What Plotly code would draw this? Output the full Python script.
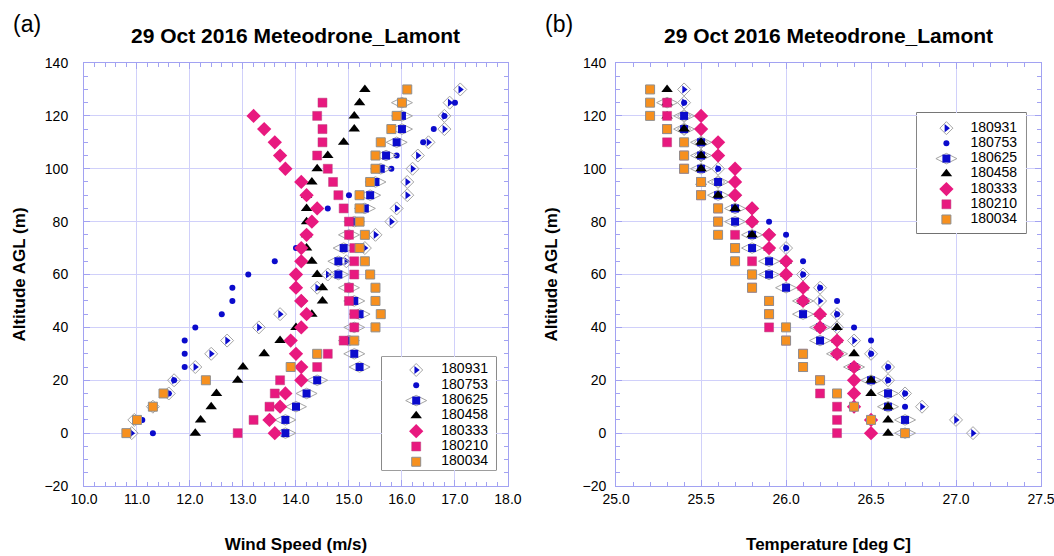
import plotly.graph_objects as go

# ---------------- data ----------------
ALT = [0, 5, 10, 15, 20, 25, 30, 35, 40, 45, 50, 55, 60, 65, 70, 75, 80, 85, 90, 95,
       100, 105, 110, 115, 120, 125, 130]

SERIES = ["180931", "180753", "180625", "180458", "180333", "180210", "180034"]

# Panel (a): wind speed (m/s)
ws_180931 = [10.9, 10.95, 11.3, 11.6, 11.7, 12.1, 12.4, 12.7, 13.3, 13.7, 14.1, 14.4, 14.6, 14.95,
             15.3, 15.5, 15.8, 15.9, 16.1, 16.1, 16.2, 16.3, 16.5, 16.8, 16.8, 16.9, 17.1]
ws_180753 = [11.3, 11.1, 11.3, 11.6, 11.7, 11.9, 11.9, 11.9, 12.1, 12.6, 12.8, 12.8, 13.1, 13.6,
             14.0, 14.2, 14.3, 14.6, 15.0, 15.4, 15.8, 15.9, 16.4, 16.6, 16.8, 17.0]
ws_180625 = [13.8, 13.8, 14.0, 14.2, 14.4, 15.2, 15.1, 15.0, 15.1, 15.2, 15.1, 15.0, 14.8, 14.8,
             14.9, 15.0, 15.1, 15.3, 15.4, 15.5, 15.6, 15.7, 15.9, 16.0, 16.0, 16.0]
ws_180458 = [12.1, 12.2, 12.4, 12.5, 12.9, 13.0, 13.4, 13.7, 14.0, 14.3, 14.5, 14.5, 14.4, 14.3,
             14.2, 14.2, 14.2, 14.2, 14.2, 14.3, 14.4, 14.6, 14.9, 15.1, 15.1, 15.2, 15.3]
ws_180333 = [13.6, 13.5, 13.7, 13.8, 14.1, 14.1, 14.0, 13.9, 14.1, 14.2, 14.1, 14.0, 14.0, 14.1,
             14.1, 14.2, 14.3, 14.4, 14.2, 14.1, 13.8, 13.7, 13.6, 13.4, 13.2]
ws_180210 = [12.9, 13.2, 13.5, 13.6, 13.7, 14.4, 14.6, 14.9, 15.1, 15.1, 15.0, 15.0, 15.1, 15.1,
             15.1, 15.0, 15.0, 14.9, 14.8, 14.7, 14.6, 14.4, 14.5, 14.5, 14.4, 14.5]
ws_180034 = [10.8, 11.0, 11.3, 11.5, 12.3, 13.9, 14.4, 15.1, 15.5, 15.6, 15.5, 15.5, 15.4, 15.3,
             15.2, 15.3, 15.2, 15.2, 15.2, 15.4, 15.5, 15.5, 15.6, 15.8, 15.9, 16.0, 16.1]

# Panel (b): temperature (deg C)
t_180931 = [27.1, 27.0, 26.8, 26.7, 26.6, 26.6, 26.5, 26.4, 26.3, 26.3, 26.2, 26.2, 26.1, 26.0,
            26.0, 25.9, 25.8, 25.8, 25.7, 25.6, 25.6, 25.5, 25.5, 25.4, 25.4, 25.4, 25.4]
t_180753 = [26.7, 26.7, 26.7, 26.7, 26.6, 26.6, 26.5, 26.5, 26.4, 26.3, 26.3, 26.2, 26.1, 26.1,
            26.0, 26.0, 25.9, 25.8, 25.7, 25.6, 25.6, 25.5, 25.5, 25.4, 25.4, 25.4]
t_180625 = [26.7, 26.7, 26.6, 26.6, 26.5, 26.4, 26.3, 26.2, 26.2, 26.1, 26.1, 26.0, 25.9, 25.9,
            25.8, 25.8, 25.7, 25.7, 25.6, 25.6, 25.5, 25.5, 25.5, 25.4, 25.4, 25.3]
t_180458 = [26.6, 26.6, 26.6, 26.5, 26.5, 26.4, 26.4, 26.3, 26.3, 26.2, 26.1, 26.1, 26.0, 26.0,
            25.9, 25.8, 25.8, 25.7, 25.6, 25.5, 25.5, 25.5, 25.5, 25.4, 25.3, 25.3, 25.3]
t_180333 = [26.5, 26.5, 26.4, 26.4, 26.4, 26.4, 26.3, 26.3, 26.2, 26.2, 26.1, 26.1, 26.0, 26.0,
            25.9, 25.9, 25.8, 25.8, 25.7, 25.7, 25.7, 25.6, 25.6, 25.5, 25.5]
t_180210 = [26.3, 26.3, 26.3, 26.2, 26.2, 26.1, 26.1, 26.0, 25.9, 25.9, 25.9, 25.8, 25.8, 25.8,
            25.7, 25.7, 25.6, 25.6, 25.5, 25.5, 25.4, 25.4, 25.3, 25.3, 25.3, 25.3]
t_180034 = [26.7, 26.5, 26.4, 26.3, 26.2, 26.1, 26.1, 26.0, 26.0, 25.9, 25.9, 25.8, 25.8, 25.7,
            25.7, 25.6, 25.6, 25.6, 25.5, 25.5, 25.4, 25.4, 25.4, 25.3, 25.2, 25.2, 25.2]

TITLE = "29 Oct 2016 Meteodrone_Lamont"
X_TITLES = ["Wind Speed (m/s)", "Temperature [deg C]"]
Y_TITLE = "Altitude AGL (m)"
PANEL_LABELS = ["(a)", "(b)"]

# ---------------- styles ----------------
BLUE = "#0b0bcc"
PINK = "#e8197f"
ORANGE = "#f7901e"
GREY = "#a4a4a4"
FONT = "Arial, Liberation Sans, Helvetica, sans-serif"
GRID = "#d0d0fa"
FRAME = "#a2a2f2"

# marker layers per series (drawn bottom to top)
STYLES = {
    "180931": [dict(symbol="diamond-open", size=10, color=GREY, line=dict(width=1, color=GREY)),
               dict(symbol="triangle-right", size=7, color=BLUE, line=dict(width=0))],
    "180753": [dict(symbol="circle", size=6, color=BLUE, line=dict(width=0))],
    "180625": [dict(symbol="diamond-wide-open", size=15, color=GREY, line=dict(width=1, color=GREY)),
               dict(symbol="square", size=8, color=BLUE, line=dict(width=0))],
    "180458": [dict(symbol="triangle-up", size=10, color="black", line=dict(width=0))],
    "180333": [dict(symbol="diamond", size=11, color=PINK, line=dict(width=0))],
    "180210": [dict(symbol="square", size=9, color=PINK, line=dict(width=0.5, color="#b8407a"))],
    "180034": [dict(symbol="square", size=9, color=ORANGE, line=dict(width=1, color="#8f8f8f"))],
}

fig = go.Figure()


def add_panel(vals, xa, ya):
    for name, v in zip(SERIES, vals):
        for mk in STYLES[name]:
            fig.add_trace(go.Scatter(x=v, y=ALT[:len(v)], name=name, mode="markers",
                                     xaxis=xa, yaxis=ya, showlegend=False,
                                     marker=mk, hoverinfo="x+y"))


def add_legend(xa, ya, sym_x, text_x):
    # custom legend drawn in its own small axes; rows are the series names (categorical)
    for name in SERIES:
        for mk in STYLES[name]:
            fig.add_trace(go.Scatter(x=[sym_x], y=[name], mode="markers", xaxis=xa, yaxis=ya,
                                     showlegend=False, marker=mk, hoverinfo="skip"))
    fig.add_trace(go.Scatter(x=[text_x] * len(SERIES), y=SERIES, text=SERIES, mode="text",
                             textposition="middle right", xaxis=xa, yaxis=ya, showlegend=False,
                             textfont=dict(family=FONT, size=14, color="black"),
                             hoverinfo="skip"))


add_panel([ws_180931, ws_180753, ws_180625, ws_180458, ws_180333, ws_180210, ws_180034], "x", "y")
add_panel([t_180931, t_180753, t_180625, t_180458, t_180333, t_180210, t_180034], "x2", "y2")
add_legend("x3", "y3", 0.30, 0.52)
add_legend("x4", "y4", 0.27, 0.49)

axis_common = dict(showgrid=True, gridcolor=GRID, gridwidth=1, showline=True, linecolor=FRAME,
                   linewidth=1, mirror="allticks", ticks="inside", ticklen=6, tickcolor=FRAME,
                   zeroline=False, automargin=False, ticklabeloverflow="allow",
                   tickfont=dict(family=FONT, size=14, color="black"))

title_font = dict(family=FONT, size=17, color="black", weight="bold")

dom_a = [0.0, 0.443]
dom_b = [0.556, 1.0]
leg_axis = dict(visible=False, fixedrange=True, automargin=False)

fig.update_layout(
    width=1054, height=556,
    margin=dict(l=84, r=13, t=63, b=70, autoexpand=False),
    paper_bgcolor="white", plot_bgcolor="white",
    font=dict(family=FONT, color="black"),
    showlegend=False,
    xaxis=dict(domain=dom_a, range=[10, 18], dtick=1, tickformat=".1f",
               minor=dict(dtick=0.2, ticks="inside", ticklen=4, tickcolor=FRAME, showgrid=False),
               title=dict(text=X_TITLES[0], font=title_font, standoff=32), anchor="y",
               **axis_common),
    yaxis=dict(domain=[0, 1], range=[-20, 140], dtick=20, ticklabelstandoff=12,
               minor=dict(dtick=5, ticks="inside", ticklen=4, tickcolor=FRAME, showgrid=False),
               title=dict(text=Y_TITLE, font=title_font, standoff=14), anchor="x",
               **axis_common),
    xaxis2=dict(domain=dom_b, range=[25, 27.5], dtick=0.5, tickformat=".1f",
                minor=dict(dtick=0.1, ticks="inside", ticklen=4, tickcolor=FRAME, showgrid=False),
                title=dict(text=X_TITLES[1], font=title_font, standoff=32), anchor="y2",
                **axis_common),
    yaxis2=dict(domain=[0, 1], range=[-20, 140], dtick=20, ticklabelstandoff=6,
                minor=dict(dtick=5, ticks="inside", ticklen=4, tickcolor=FRAME, showgrid=False),
                title=dict(text=Y_TITLE, font=title_font, standoff=20), anchor="x2",
                **axis_common),
    xaxis3=dict(domain=[0.3114, 0.4305], range=[0, 1], anchor="y3", **leg_axis),
    yaxis3=dict(domain=[0.0378, 0.305], range=[6.54, -0.85], type="category",
                categoryorder="array", categoryarray=SERIES, anchor="x3", **leg_axis),
    xaxis4=dict(domain=[0.8704, 0.9843], range=[0, 1], anchor="y4", **leg_axis),
    yaxis4=dict(domain=[0.598, 0.882], range=[6.89, -1.0], type="category",
                categoryorder="array", categoryarray=SERIES, anchor="x4", **leg_axis),
)

# legend boxes (white, framed) beneath the legend markers
for xa, ya in [("x3", "y3"), ("x4", "y4")]:
    fig.add_shape(type="rect", xref=f"{xa} domain", yref=f"{ya} domain", x0=0, x1=1, y0=0, y1=1,
                  fillcolor="white", line=dict(color="#3a3a3a", width=1.2), layer="below")

for dom, lab in zip([dom_a, dom_b], PANEL_LABELS):
    mid = (dom[0] + dom[1]) / 2
    fig.add_annotation(text=TITLE, x=mid, y=1.064, xref="paper", yref="paper",
                       showarrow=False, xanchor="center", yanchor="middle",
                       font=dict(family=FONT, size=21, color="black", weight="bold"))
    fig.add_annotation(text=lab, x=dom[0] - 0.06, y=1.092, xref="paper", yref="paper",
                       showarrow=False, xanchor="center", yanchor="middle",
                       font=dict(family=FONT, size=23, color="black"))

# remove the default page margin so the 1054x556 figure fills the window exactly
fig.write_html("out.html", config={"displayModeBar": False},
               post_script="document.body.style.margin='0';document.body.style.overflow='hidden';")
